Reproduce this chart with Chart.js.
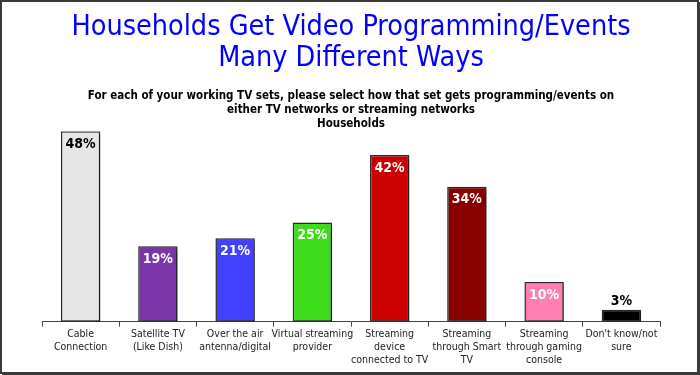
<!DOCTYPE html>
<html>
<head>
<meta charset="utf-8">
<script src="https://cdn.jsdelivr.net/npm/chart.js@4"></script>
<style>
  body { margin: 0; background: #fff; }
  #wrap { width: 700px; height: 375px; }
</style>
</head>
<body>
<div id="wrap"><canvas id="myChart" width="700" height="375"></canvas></div>
<script>
'use strict';

let categories = [
    ['Cable', 'Connection'],
    ['Satellite TV', '(Like Dish)'],
    ['Over the air', 'antenna/digital'],
    ['Virtual streaming', 'provider'],
    ['Streaming', 'device', 'connected to TV'],
    ['Streaming', 'through Smart', 'TV'],
    ['Streaming', 'through gaming', 'console'],
    ["Don't know/not", 'sure']
];
let values = [48, 19, 21, 25, 42, 34, 10, 3];
let barColors = ['#e6e6e6', '#7a36a8', '#4141ff', '#3fdc1e', '#cc0000', '#880000', '#ff7fb2', '#000000'];
let labelColors = ['#000', '#fff', '#fff', '#fff', '#fff', '#fff', '#fff', '#000'];
let titleLines = ['Households Get Video Programming/Events', 'Many Different Ways'];
let subtitleLines = [
    'For each of your working TV sets, please select how that set gets programming/events on',
    'either TV networks or streaming networks',
    'Households'
];

let fontName = '"DejaVu Sans Condensed", "DejaVu Sans", sans-serif';

// white background and dark frame
let framePlugin = {
    id: 'frame',
    beforeDraw(chart) {
        let ctx = chart.ctx;
        ctx.save();
        ctx.fillStyle = '#fff';
        ctx.fillRect(0, 0, chart.width, chart.height);
        ctx.strokeStyle = '#3a3a3a';
        ctx.lineWidth = 2;
        ctx.strokeRect(1, 1, chart.width - 3, chart.height - 3);
        ctx.fillStyle = '#3a3a3a';
        ctx.fillRect(chart.width - 2, 2, 2, chart.height - 2);
        ctx.fillRect(2, chart.height - 2, chart.width - 2, 2);
        ctx.restore();
    }
};

// drop shadow on bars
let shadowPlugin = {
    id: 'barShadow',
    beforeDatasetDraw(chart) {
        let ctx = chart.ctx;
        ctx.save();
        ctx.shadowColor = 'rgba(0,0,0,0.35)';
        ctx.shadowOffsetX = 3;
        ctx.shadowOffsetY = 2;
        ctx.shadowBlur = 2;
    },
    afterDatasetDraw(chart) {
        chart.ctx.restore();
    }
};

// percent labels at the top of each bar
let valueLabels = {
    id: 'valueLabels',
    afterDatasetsDraw(chart) {
        let ctx = chart.ctx;
        let meta = chart.getDatasetMeta(0);
        ctx.save();
        ctx.font = 'bold 14px ' + fontName;
        ctx.textAlign = 'center';
        ctx.textBaseline = 'middle';
        meta.data.forEach((bar, i) => {
            let v = values[i];
            ctx.fillStyle = labelColors[i];
            let y = v < 5 ? bar.y - 8 : bar.y + 13;
            ctx.fillText(v + '%', bar.x, y);
        });
        ctx.restore();
    }
};

let ctx = document.getElementById('myChart').getContext('2d');
let myChart = new Chart(ctx, {
    type: 'bar',
    data: {
        labels: categories,
        datasets: [{
            data: values,
            backgroundColor: barColors,
            borderColor: '#2a2a2a',
            borderWidth: 1.5,
            borderSkipped: false,
            barPercentage: 0.51,
            categoryPercentage: 1
        }]
    },
    options: {
        responsive: false,
        animation: false,
        layout: {
            padding: { left: 42, right: 40, top: 8, bottom: 7 }
        },
        plugins: {
            legend: { display: false },
            tooltip: { enabled: false },
            title: {
                display: true,
                text: titleLines,
                color: '#0000ff',
                font: { family: fontName, size: 28.5, weight: 'normal', lineHeight: 1.09 },
                padding: { top: 4, bottom: 15 }
            },
            subtitle: {
                display: true,
                text: subtitleLines,
                color: '#000',
                font: { family: fontName, size: 11.5, weight: 'bold', lineHeight: 1.22 },
                padding: { top: 0, bottom: 0 }
            }
        },
        scales: {
            x: {
                grid: {
                    display: true,
                    offset: true,
                    drawOnChartArea: false,
                    drawTicks: true,
                    tickLength: 5,
                    color: '#444'
                },
                border: { display: true, color: '#444', width: 1 },
                ticks: {
                    color: '#222',
                    font: { family: fontName, size: 10.5, lineHeight: 1.25 },
                    maxRotation: 0,
                    autoSkip: false,
                    padding: 1
                }
            },
            y: {
                display: false,
                min: 0,
                max: 48
            }
        }
    },
    plugins: [framePlugin, shadowPlugin, valueLabels]
});
</script>
</body>
</html>
